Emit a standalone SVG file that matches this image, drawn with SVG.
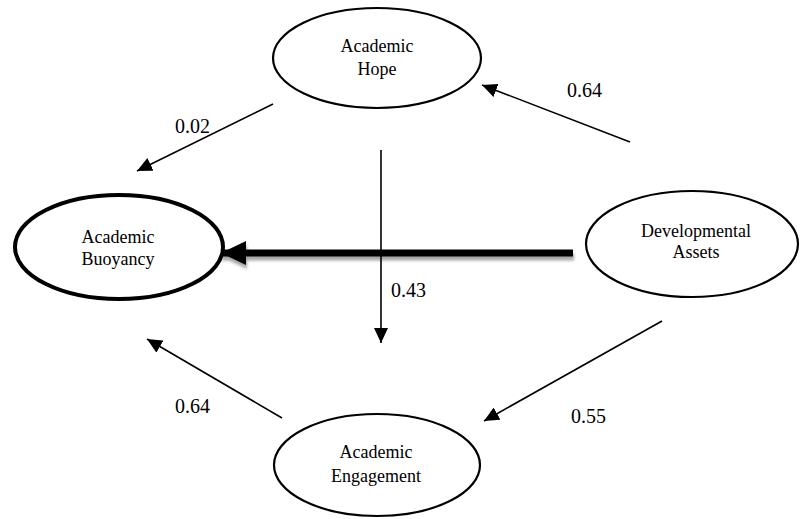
<svg xmlns="http://www.w3.org/2000/svg" width="800" height="519" viewBox="0 0 800 519">
<style>
.node{fill:#fff;stroke:#000;stroke-width:2.2}
.bold{stroke-width:4}
.t{font-family:"Liberation Serif","Times New Roman","DejaVu Serif",serif;font-size:18px;fill:#000;text-anchor:middle}
.lbl{font-family:"Liberation Serif","Times New Roman","DejaVu Serif",serif;font-size:20px;fill:#000}
.c{stroke:#000;stroke-width:1.6;fill:none;marker-end:url(#ah)}
.thick{stroke:#000;stroke-width:7;fill:none;marker-end:url(#ahb);filter:url(#sh)}
</style>
<defs>
<marker id="ah" markerUnits="userSpaceOnUse" markerWidth="16" markerHeight="14" refX="15" refY="7" orient="auto">
<path d="M0,0 L15,7 L0,14 Z" fill="#000"/>
</marker>
<marker id="ahb" markerUnits="userSpaceOnUse" markerWidth="26" markerHeight="24" refX="25" refY="12" orient="auto">
<path d="M0,0 L25,12 L0,24 Z" fill="#000"/>
</marker>
<filter id="sh" filterUnits="userSpaceOnUse" x="180" y="220" width="420" height="70">
<feDropShadow dx="1" dy="4" stdDeviation="1.5" flood-color="#000" flood-opacity="0.35"/>
</filter>
</defs>
<g id="connectors">
<line class="c" x1="273" y1="104" x2="137" y2="171"/>
<line class="c" x1="630" y1="142" x2="482" y2="85"/>
<line class="c" x1="282" y1="418" x2="147" y2="339"/>
<line class="c" x1="662" y1="321" x2="484" y2="421"/>
<line class="c" x1="381" y1="150" x2="381" y2="343"/>
<path class="thick" d="M573,253 H221"/>
</g>
<g id="labels">
<text class="lbl" x="175" y="133">0.02</text>
<text class="lbl" x="567" y="97">0.64</text>
<text class="lbl" x="391" y="297">0.43</text>
<text class="lbl" x="175" y="413">0.64</text>
<text class="lbl" x="571" y="423">0.55</text>
</g>
<g id="hope">
<ellipse class="node" cx="377" cy="58" rx="104" ry="50"/>
<text class="t" x="377" y="52">Academic</text>
<text class="t" x="377" y="75">Hope</text>
</g>
<g id="buoyancy">
<ellipse class="node bold" cx="119" cy="247" rx="104" ry="52"/>
<text class="t" x="118" y="243">Academic</text>
<text class="t" x="118" y="265">Buoyancy</text>
</g>
<g id="assets">
<ellipse class="node" cx="692" cy="244" rx="106" ry="53"/>
<text class="t" x="696" y="237">Developmental</text>
<text class="t" x="696" y="258">Assets</text>
</g>
<g id="engagement">
<ellipse class="node" cx="377" cy="465" rx="103" ry="51"/>
<text class="t" x="376" y="458">Academic</text>
<text class="t" x="376" y="482">Engagement</text>
</g>
</svg>
